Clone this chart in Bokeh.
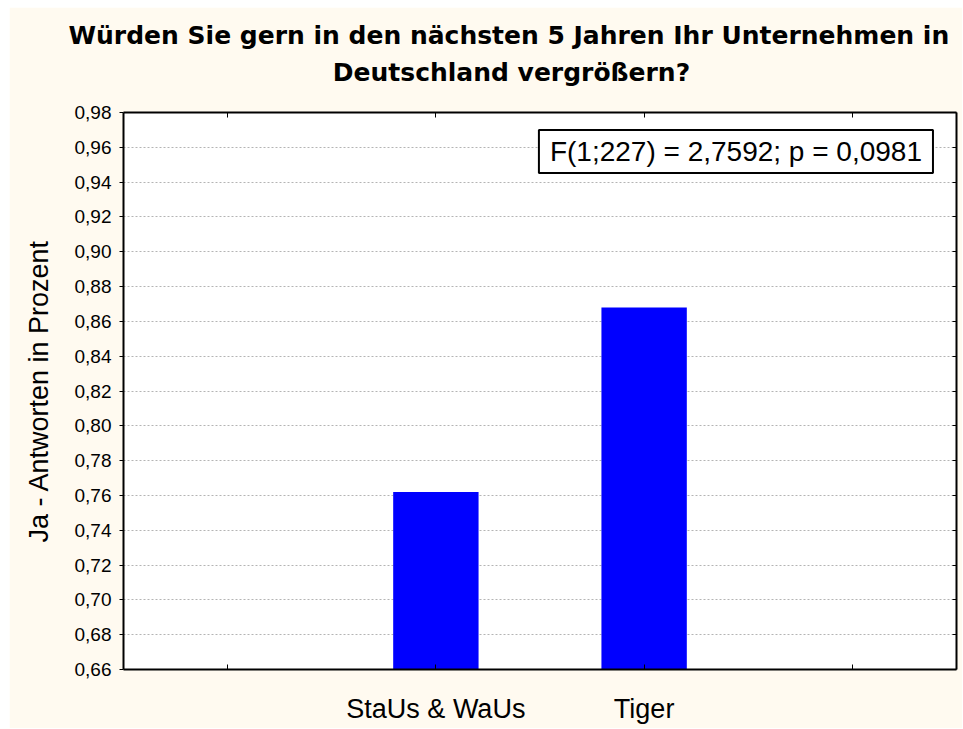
from bokeh.plotting import figure
from bokeh.models import FactorRange, Range1d, LinearAxis, FixedTicker, Label, Title
from bokeh.embed import file_html
from bokeh.resources import INLINE

# ---- data ----
title_lines = ["Würden Sie gern in den nächsten 5 Jahren Ihr Unternehmen in",
               "Deutschland vergrößern?"]
categories = ["StaUs & WaUs", "Tiger"]
yes_share = [0.762, 0.868]
y_ticks = [0.66, 0.68, 0.70, 0.72, 0.74, 0.76, 0.78, 0.80, 0.82,
           0.84, 0.86, 0.88, 0.90, 0.92, 0.94, 0.96, 0.98]
y_tick_labels = ["0,66", "0,68", "0,70", "0,72", "0,74", "0,76", "0,78", "0,80", "0,82",
                 "0,84", "0,86", "0,88", "0,90", "0,92", "0,94", "0,96", "0,98"]
y_axis_label = "Ja - Antworten in Prozent"
stat_text = "F(1;227) = 2,7592; p = 0,0981"

# ---- figure ----
factors = [" "] + categories + ["  "]
slot_centers = [i + 0.5 for i in range(len(factors))]
y_start, y_end = y_ticks[0], y_ticks[-1]

CREAM = "#FFFAF0"
FONT = "Liberation Sans"
TITLE_FONT = "DejaVu Sans"
TITLE_X = 1.863          # horizontal centre of the title block (category-slot units)

p = figure(width=953, height=721, margin=(7, 1, 1, 9),
           x_range=FactorRange(factors=factors, range_padding=0),
           y_range=Range1d(y_start, y_end),
           output_backend="svg", toolbar_location=None,
           min_border_left=114, min_border_right=6,
           min_border_top=105, min_border_bottom=59)
p.border_fill_color = CREAM
p.background_fill_color = "white"
p.outline_line_color = None

p.vbar(x=categories, top=yes_share, bottom=y_start, width=0.41,
       fill_color="#0000FF", line_color=None)

# grid
p.xgrid.grid_line_color = None
p.ygrid.grid_line_color = "#b4b4b4"
p.ygrid.grid_line_dash = "2 2"
p.ygrid.grid_line_width = 1

# bottom axis
xa = p.xaxis[0]
xa.axis_line_width = 2
xa.axis_line_color = "black"
xa.major_tick_in = 5
xa.major_tick_out = 0
xa.major_tick_line_color = "black"
xa.major_label_text_font = FONT
xa.major_label_text_font_size = "27px"
xa.major_label_text_color = "black"
xa.major_label_standoff = 24

# left axis
ya = p.yaxis[0]
ya.ticker = FixedTicker(ticks=y_ticks)
ya.major_label_overrides = dict(zip(y_ticks, y_tick_labels))
ya.axis_line_width = 2
ya.axis_line_color = "black"
ya.major_tick_in = 0
ya.major_tick_out = 4
ya.minor_tick_line_color = None
ya.major_label_text_font = FONT
ya.major_label_text_font_size = "19px"
ya.major_label_text_color = "black"
ya.major_label_standoff = 8
ya.axis_label = y_axis_label
ya.axis_label_text_font = FONT
ya.axis_label_text_font_size = "27px"
ya.axis_label_text_font_style = "normal"
ya.axis_label_text_color = "black"
ya.axis_label_standoff = 18

# right axis (inward ticks only, no labels)
ra = LinearAxis(ticker=FixedTicker(ticks=[], minor_ticks=y_ticks),
                major_tick_in=0, major_tick_out=0, major_tick_line_color=None,
                minor_tick_in=4, minor_tick_out=0, minor_tick_line_color="black",
                axis_line_width=2, axis_line_color="black", major_label_standoff=0)
p.add_layout(ra, "right")

# top axis: inward ticks at the category slots; its single label carries the
# second title line, centred under the first one
ta = LinearAxis(ticker=FixedTicker(ticks=[TITLE_X], minor_ticks=slot_centers),
                major_label_overrides={TITLE_X: title_lines[1]},
                major_tick_in=0, major_tick_out=0, major_tick_line_color=None,
                minor_tick_in=5, minor_tick_out=0, minor_tick_line_color="black",
                axis_line_width=2, axis_line_color="black", major_label_standoff=26,
                major_label_text_font=TITLE_FONT, major_label_text_font_style="bold",
                major_label_text_font_size="25px", major_label_text_color="black")
p.add_layout(ta, "above")

# first title line above it
p.add_layout(Title(text=title_lines[0], align="left", offset=-55, standoff=9,
                   vertical_align="bottom", text_font=TITLE_FONT,
                   text_font_style="bold", text_font_size="25px",
                   text_color="black"), "above")

# statistic box
p.add_layout(Label(x=3.887, y=0.9699, text=stat_text, text_align="right",
                   text_baseline="top", text_font=FONT, text_font_size="28px",
                   text_color="black", border_line_color="black", border_line_width=2,
                   background_fill_color="white",
                   padding=dict(left=11, right=11, top=6, bottom=6)))

open("out.html", "w").write(file_html(p, INLINE))
